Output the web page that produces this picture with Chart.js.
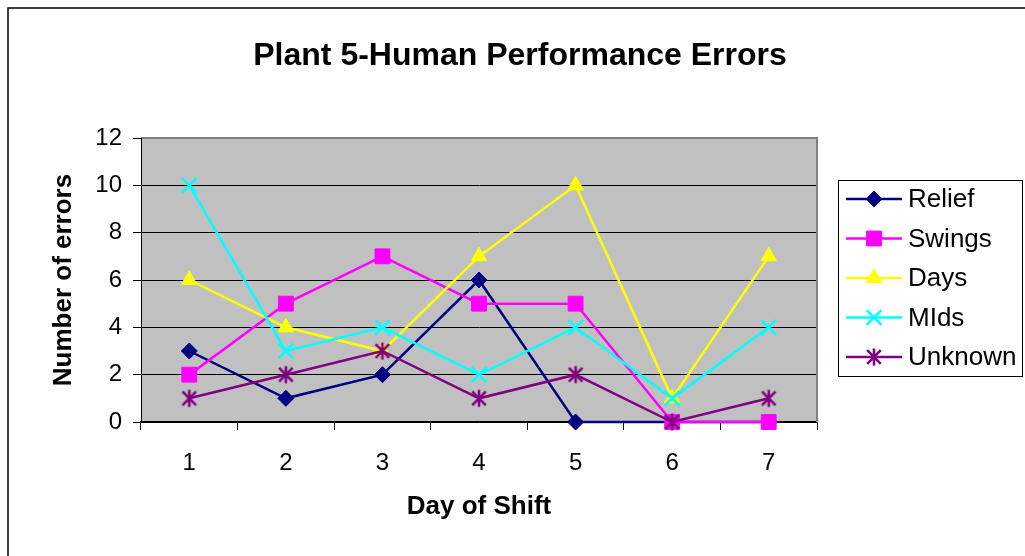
<!DOCTYPE html>
<html>
<head>
<meta charset="utf-8">
<script src="https://cdn.jsdelivr.net/npm/chart.js@4/dist/chart.umd.min.js"></script>
<style>
html,body{margin:0;padding:0;background:#fff;}
#wrap{width:1025px;height:556px;position:relative;}
</style>
</head>
<body>
<div id="wrap"><canvas id="c" width="1025" height="556"></canvas></div>
<script>
// ---- data ----
const dayLabels = ['1', '2', '3', '4', '5', '6', '7'];
const reliefValues = [3, 1, 2, 6, 0, 0, 0];
const swingsValues = [2, 5, 7, 5, 5, 0, 0];
const daysValues = [6, 4, 3, 7, 10, 1, 7];
const midsValues = [10, 3, 4, 2, 4, 1, 4];
const unknownValues = [1, 2, 3, 1, 2, 0, 1];
const yTicks = [0, 2, 4, 6, 8, 10, 12];

const chartTitle = 'Plant 5-Human Performance Errors';
const xTitle = 'Day of Shift';
const yTitle = 'Number of errors';

const FONT = "'Liberation Sans', Arial, Helvetica, sans-serif";

// asterisk marker (X plus vertical bar) like the spreadsheet "star"
function makeStar(color) {
  const s = 22, c = document.createElement('canvas');
  c.width = s; c.height = s;
  const g = c.getContext('2d');
  g.strokeStyle = color; g.lineWidth = 2.6; g.lineCap = 'butt';
  const m = s / 2, r = 8.5;
  g.beginPath();
  g.moveTo(m, m - r); g.lineTo(m, m + r);
  g.moveTo(m - r * 0.8, m - r * 0.8); g.lineTo(m + r * 0.8, m + r * 0.8);
  g.moveTo(m + r * 0.8, m - r * 0.8); g.lineTo(m - r * 0.8, m + r * 0.8);
  g.stroke();
  return c;
}
const starImg = makeStar('#800080');

function ds(label, data, color, style, radius, order, bw) {
  return {
    label, data,
    borderColor: color, backgroundColor: color,
    pointBackgroundColor: color, pointBorderColor: color,
    borderWidth: 2.5, pointStyle: style, pointRadius: radius,
    pointHoverRadius: radius, pointBorderWidth: bw,
    tension: 0, order, clip: false
  };
}

const datasets = [
  ds('Relief', reliefValues, '#000080', 'rectRot', 8, 5, 1),
  ds('Swings', swingsValues, '#FF00FF', 'rect', 10.5, 4, 1),
  ds('Days', daysValues, '#FFFF00', 'triangle', 9, 3, 1),
  ds('MIds', midsValues, '#00FFFF', 'crossRot', 10.5, 2, 2.5),
  ds('Unknown', unknownValues, '#800080', starImg, 9, 1, 1)
];

const decor = {
  id: 'decor',
  beforeDraw(chart) {
    const ctx = chart.ctx, a = chart.chartArea;
    ctx.save();
    ctx.fillStyle = '#fff';
    ctx.fillRect(0, 0, chart.width, chart.height);
    ctx.fillStyle = '#C0C0C0';
    ctx.fillRect(a.left, a.top, a.right - a.left, a.bottom - a.top);
    ctx.restore();
  },
  beforeDatasetsDraw(chart) {
    const ctx = chart.ctx, a = chart.chartArea;
    ctx.save();
    ctx.strokeStyle = '#808080';
    ctx.lineWidth = 2;
    ctx.beginPath();
    ctx.moveTo(a.left, a.top);
    ctx.lineTo(a.right, a.top);
    ctx.lineTo(a.right, a.bottom);
    ctx.stroke();
    ctx.strokeStyle = '#000';
    ctx.lineWidth = 1;
    ctx.beginPath();
    ctx.moveTo(a.left + 0.5, a.top);
    ctx.lineTo(a.left + 0.5, a.bottom);
    ctx.stroke();
    ctx.restore();
  },
  afterDraw(chart) {
    const ctx = chart.ctx;
    ctx.save();
    // outer frame
    ctx.strokeStyle = '#000';
    ctx.lineWidth = 1.5;
    ctx.strokeRect(8, 8, 1100, 700);
    // title
    ctx.fillStyle = '#000';
    ctx.font = 'bold 32px ' + FONT;
    ctx.textAlign = 'center';
    ctx.textBaseline = 'middle';
    ctx.fillText(chartTitle, 520, 56);
    // legend
    const lx = 838, ly = 180, lw = 184, lh = 196;
    ctx.lineWidth = 1;
    ctx.strokeStyle = '#000';
    ctx.strokeRect(lx + 0.5, ly + 0.5, lw, lh);
    ctx.font = '26px ' + FONT;
    ctx.textAlign = 'left';
    chart.data.datasets.forEach((d, i) => {
      const y = 199 + i * 39.5;
      ctx.strokeStyle = d.borderColor;
      ctx.lineWidth = 2.5;
      ctx.beginPath();
      ctx.moveTo(846, y); ctx.lineTo(902, y);
      ctx.stroke();
      ctx.fillStyle = d.pointBackgroundColor;
      ctx.strokeStyle = d.pointBorderColor;
      ctx.lineWidth = d.pointBorderWidth;
      Chart.helpers.drawPoint(ctx, {pointStyle: d.pointStyle, radius: d.pointRadius, rotation: 0, borderWidth: d.pointBorderWidth}, 874, y);
      ctx.fillStyle = '#000';
      ctx.fillText(d.label, 908, y + 1);
    });
    ctx.restore();
  }
};

new Chart(document.getElementById('c'), {
  type: 'line',
  data: { labels: dayLabels, datasets },
  options: {
    responsive: false,
    animation: false,
    devicePixelRatio: 1,
    layout: { padding: { top: 138, right: 208, left: 0, bottom: 0 } },
    plugins: {
      legend: { display: false },
      title: { display: false },
      tooltip: { enabled: false }
    },
    scales: {
      x: {
        type: 'category',
        offset: true,
        grid: { offset: true, drawOnChartArea: false, drawTicks: true, tickLength: 8, color: '#000', lineWidth: 1 },
        border: { display: true, color: '#000', width: 1.5 },
        ticks: { color: '#000', font: { family: FONT, size: 24 }, padding: 19, maxRotation: 0 },
        title: { display: true, text: xTitle, color: '#000', font: { family: FONT, size: 26, weight: 'bold' }, padding: { top: 0, bottom: 34 } },
        afterFit(s) { s.height = 134; }
      },
      y: {
        min: 0, max: 12,
        afterBuildTicks(s) { s.ticks = yTicks.map(v => ({ value: v })); },
        grid: { drawOnChartArea: true, drawTicks: true, tickLength: 8, color: '#000', lineWidth: 1 },
        border: { display: true, color: '#000', width: 1 },
        ticks: { color: '#000', font: { family: FONT, size: 24 }, padding: 11 },
        title: { display: true, text: yTitle, color: '#000', font: { family: FONT, size: 26, weight: 'bold' }, padding: { top: 48, bottom: 0 } },
        afterFit(s) { s.width = 141; }
      }
    }
  },
  plugins: [decor]
});
</script>
</body>
</html>
